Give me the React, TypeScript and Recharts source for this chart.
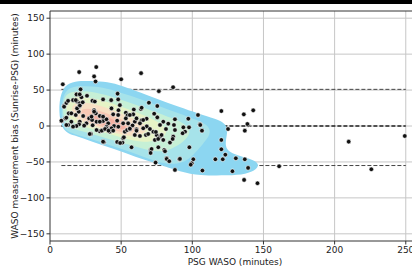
import React from "react";
import { ScatterChart, Scatter, XAxis, YAxis, ReferenceLine } from "recharts";

const xTicks = [0, 50, 100, 150, 200, 250];
const yTicks = [-150, -100, -50, 0, 50, 100, 150];

const upperLoA = 51;
const meanBias = 0;
const lowerLoA = -55;
const loaStart = 8;
const loaEnd = 250;

// [PSG WASO, Sunrise - PSG]
const measurements: [number, number][] = [
  [20.5, 75], [32.5, 82], [31, 69], [32, 62], [64, 73.5], [50, 65], [9, 58], [86.5, 54],
  [76.5, 48.5], [47.5, 45], [21.5, 51],
  [9.9, 28], [11.5, 32], [12.7, 35], [16.2, 36], [18.6, 44], [19, 34], [20.9, 31.5], [20.4, 27],
  [22.1, 40], [29.8, 35], [31, 22], [31.5, 34], [37.3, 37], [43, 36], [47.9, 37], [49.1, 29],
  [48.1, 22], [43.2, 24.5], [53.8, 17.6], [58.9, 23], [63.9, 23.6], [69.5, 32.4], [75.4, 27.8],
  [64.4, 25.4], [73.2, 17.1], [58.5, 16.2], [53.3, 18.5], [54.5, 14.9], [64.4, 7.9], [67.9, 10.1],
  [83.1, 3.2], [87.8, 9.3], [97.2, 10.1],
  [8.2, 6.9], [10.8, 10.6], [13.2, 17.6], [15, 6], [18.1, 15.3], [20.2, 19.9], [20.9, 6],
  [23.3, 13.9], [25.6, 3.7], [27.5, 10.6], [29.6, 8.3], [32.2, 17.6], [32.7, 6], [35, 13.9],
  [37.3, 6.9], [39.7, 9.3], [40.9, 3.7], [44.4, 16.2], [47.9, 15.3], [47.2, 7.4], [51.4, 3.7],
  [53.3, 10.6], [56.1, 15.3], [59.6, 6], [60.8, 10.6], [65.5, 8.3], [75.4, 12], [79.6, 6],
  [104, 15.3], [105.4, 2.3], [87.1, 1.4], [77.3, 1.4], [54.9, 3.7], [63.2, 3.7], [20.4, 2.3],
  [12.7, 1.4],
  [8, 7.4], [11.5, 11.5], [9.9, 26.8], [11.5, 1.4], [18.6, 0], [15, 17.6], [19, 24.5], [21, 28.5],
  [23, 33], [26, 42], [20.9, 44], [18.1, 36], [29.2, 13], [31, 20], [35, 6], [37.3, 13],
  [39.7, -1], [37.3, -5.6], [35, -7.4], [28.7, -11], [37.8, -22.7],
  [24, 0.5], [45, 0], [58, 0.8], [68, -0.5], [30, 1], [48, -1],
  [16.2, -0.9], [27.9, -11.1], [32.7, -5.6], [37.3, -21.8], [39.7, -3.2], [42, -7.9], [43.2, -3.2],
  [44.4, -6.5], [47.2, -22.2], [50.9, -23.1], [51.4, -17.1], [52.6, -7.9], [54.2, -5.6],
  [56.1, -4.6], [57.3, -29.6], [59.6, -12.5], [60.8, -4.6], [63.2, -13.9], [65.5, -3.2],
  [67.4, -12.5], [69, -11.1], [70.7, -33.3], [72.6, -7.9], [73.7, -19.4], [74.9, -12.5],
  [76.1, -29.6], [77.3, -14.8], [79.6, -19.4], [80.3, -33.3], [81.9, -44.9], [84.3, -23.1],
  [86.6, -14.8], [87.8, -5.6], [90.9, -46.3], [94.9, -7.9], [97.9, -29.6], [100.7, -46.3],
  [99.6, -51.9], [107.1, -62], [87.8, -61.1], [74.2, -50.9],
  [36.4, -6.5], [38.7, -4.2], [41.1, -6.5], [49.3, -23.6],
  [51.9, -15.7], [56.1, -3.7], [60.8, -6.5], [70.2, -4.2], [74.4, -8.3], [81.5, -4.2],
  [93.7, -1.9], [97.7, -1.9], [78.4, -12.5], [76, -18], [86.2, -18], [93.2, -10.1],
  [71.4, -32], [70.7, -37.5], [80.8, -35.1], [82, -45.8], [83.8, -49], [91.3, -45.8],
  [105.6, 1.4], [106.8, -6.5], [125.1, -4.2], [139.2, 1.4], [136.9, -6.5], [120.4, -19.4],
  [120.4, -32.4], [123.2, -39.9], [116.2, -46.3], [121.4, -46.3], [130.6, -44.9], [136.9, -46.3],
  [98.9, -53.8], [139.2, -58.3], [128.2, -62.9], [136.4, -75], [145.8, -79.6],
  [120.4, 20.8], [136.2, 16.2], [142.8, 21.8], [138.7, 2.8],
  [161, -56], [209.9, -21.8], [225.8, -60.2], [249.3, -13.9],
];

// KDE contour outlines, outermost first
const level1: [number, number][] = [
  [6, 61], [25, 63], [38, 62], [48, 58], [60, 49], [75, 38], [90, 27], [105, 17], [116, 10],
  [122, 5], [125, -3], [124, -15], [123, -28], [126, -37], [134, -42], [143, -47], [147, -53],
  [145, -61], [138, -67], [125, -69], [105, -69], [92, -64], [75, -52], [60, -43], [45, -32],
  [30, -22], [17, -13], [6, -6],
];
const level2: [number, number][] = [
  [8, 53], [22, 56], [34, 55], [46, 49], [60, 40], [75, 29], [90, 18], [104, 8], [112, 0],
  [113, -12], [107, -26], [101, -40], [93, -53], [80, -53], [66, -43], [52, -33], [38, -24],
  [24, -15], [12, -8], [8, 0],
];
const level3: [number, number][] = [
  [9, 46], [20, 49], [32, 47], [45, 40], [58, 31], [72, 21], [86, 11], [97, 1], [99, -10],
  [94, -22], [86, -32], [76, -37], [64, -31], [50, -23], [36, -15], [22, -7], [12, -1], [9, 12],
];
const level4: [number, number][] = [
  [12, 39], [22, 41], [33, 38], [46, 30], [60, 20], [73, 9], [82, -2], [82, -12], [75, -21],
  [64, -23], [52, -17], [38, -9], [24, -1], [14, 7], [11, 22],
];
const level5: [number, number][] = [
  [16, 32], [26, 33], [36, 28], [48, 19], [60, 9], [68, 1], [68, -9], [60, -15], [50, -12],
  [38, -5], [26, 3], [17, 11], [15, 22],
];
const level6: [number, number][] = [
  [22, 25], [31, 24], [42, 16], [54, 6], [61, -3], [58, -10], [48, -8], [36, -1], [26, 6],
  [21, 15],
];
const level7: [number, number][] = [
  [30, 17], [38, 14], [48, 6], [55, -2], [51, -6], [42, -2], [33, 5], [29, 11],
];

const densityLevels = [level1, level2, level3, level4, level5, level6, level7];
const densityColors = ["#8cd6f1", "#a6e3ea", "#c6f0d6", "#e6f3c6", "#f8e0c4", "#f8c8b4", "#f4b0a2"];

const fmt = (v: number) => (v < 0 ? `\u2212${-v}` : `${v}`);

const Dot = (p: any) => (
  <circle cx={p.cx} cy={p.cy} r={2.3} fill="#111" stroke="#fff" strokeWidth={0.6} />
);

export default function App() {
  const pts = measurements.map(([x, y]) => ({ x, y }));
  const axisColor = "#333";
  const gridColor = "#c6c6c6";
  const tickStyle = { fill: "#222", fontSize: 9, fontFamily: "DejaVu Sans" };

  return (
    <div
      style={{
        position: "absolute",
        left: 0,
        top: 0,
        width: 412,
        height: 270,
        overflow: "hidden",
        background: "#fff",
        fontFamily: "DejaVu Sans",
      }}
    >
      <div style={{ position: "absolute", left: 0, top: 0, width: 412, height: 4, background: "#000", zIndex: 2 }} />
      <ScatterChart width={420} height={270} margin={{ top: 11, right: 0, bottom: 0, left: 0 }}>
        <XAxis
          type="number"
          dataKey="x"
          domain={[0, 260]}
          ticks={xTicks}
          tickFormatter={fmt}
          tickSize={3.5}
          tickMargin={2}
          height={29}
          stroke={axisColor}
          tick={tickStyle}
          allowDataOverflow
          label={{
            value: "PSG WASO (minutes)",
            position: "insideBottom",
            offset: 5,
            style: { fill: "#222", fontSize: 9, fontFamily: "DejaVu Sans" },
          }}
        />
        <YAxis
          type="number"
          dataKey="y"
          domain={[-160, 160]}
          ticks={yTicks}
          tickFormatter={fmt}
          tickSize={3.5}
          tickMargin={2}
          width={50}
          stroke={axisColor}
          tick={tickStyle}
          allowDataOverflow
          label={{
            value: "WASO measurement bias (Sunrise-PSG) (minutes)",
            angle: -90,
            position: "center",
            dx: -10,
            style: { fill: "#222", fontSize: 9, fontFamily: "DejaVu Sans", textAnchor: "middle" },
          }}
        />
        {densityLevels.map((lvl, i) => (
          <Scatter
            key={`lvl${i}`}
            data={lvl.map(([x, y]) => ({ x, y }))}
            shape={() => <g />}
            line={{ fill: densityColors[i], stroke: "none" }}
            lineType="joint"
            lineJointType="basisClosed"
            isAnimationActive={false}
          />
        ))}
        {xTicks.filter((v) => v > 0).map((v) => (
          <ReferenceLine key={`gx${v}`} x={v} stroke={gridColor} strokeWidth={1} />
        ))}
        {yTicks.map((v) => (
          <ReferenceLine key={`gy${v}`} y={v} stroke={gridColor} strokeWidth={1} />
        ))}
        <ReferenceLine y={160} stroke={axisColor} strokeWidth={1} />
        <ReferenceLine
          segment={[{ x: loaStart, y: upperLoA }, { x: loaEnd, y: upperLoA }]}
          stroke="#444"
          strokeDasharray="4 2"
        />
        <ReferenceLine
          segment={[{ x: loaStart, y: meanBias }, { x: loaEnd, y: meanBias }]}
          stroke="#222"
          strokeWidth={1.6}
          strokeDasharray="4 2"
        />
        <ReferenceLine
          segment={[{ x: loaStart, y: lowerLoA }, { x: loaEnd, y: lowerLoA }]}
          stroke="#444"
          strokeDasharray="4 2"
        />
        <Scatter data={pts} shape={Dot} isAnimationActive={false} />
      </ScatterChart>
    </div>
  );
}
